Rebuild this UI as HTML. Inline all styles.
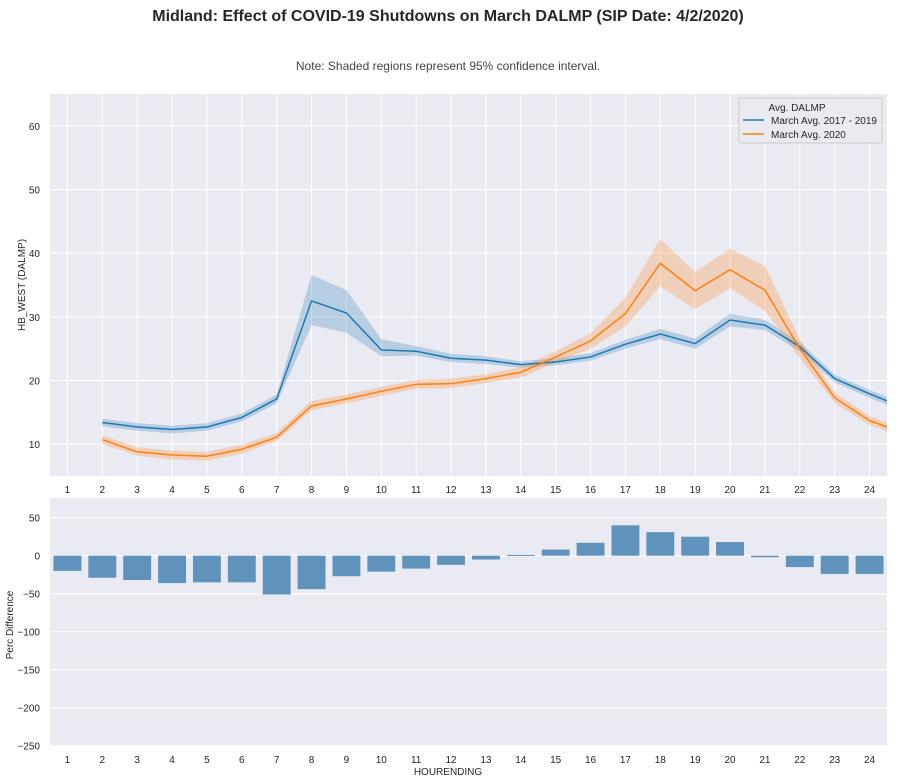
<!DOCTYPE html>
<html><head><meta charset="utf-8"><style>
body{margin:0;background:#fff;width:897px;height:782px;overflow:hidden}
svg{display:block;font-family:"Liberation Sans",sans-serif}
</style></head><body>
<svg id="s" width="897" height="782" xmlns="http://www.w3.org/2000/svg"></svg>
<script>
const s=document.getElementById('s');let h='';
const L=50,R=887,W=R-L;
const X=v=>L+(v-0.5)*W/24;
// top plot
const T0=94,T1=476,Y=v=>T1-(v-5)*(T1-T0)/60;
h+=`<text x="448" y="21" text-anchor="middle" font-size="16" font-weight="bold" fill="#262626">Midland: Effect of COVID-19 Shutdowns on March DALMP (SIP Date: 4/2/2020)</text>`;
h+=`<text x="448" y="70" text-anchor="middle" font-size="12" fill="#444">Note: Shaded regions represent 95% confidence interval.</text>`;
h+=`<rect x="${L}" y="${T0}" width="${W}" height="${T1-T0}" fill="#eaeaf2"/>`;
for(let v=10;v<=60;v+=10){h+=`<line x1="${L}" x2="${R}" y1="${Y(v)}" y2="${Y(v)}" stroke="#fff" stroke-width="1"/><text x="${L-10}" y="${Y(v)+4}" text-anchor="end" font-size="10" fill="#262626">${v}</text>`;}
for(let i=1;i<=24;i++){h+=`<line x1="${X(i)}" x2="${X(i)}" y1="${T0}" y2="${T1}" stroke="#fff"/><text x="${X(i)}" y="${T1+17}" text-anchor="middle" font-size="10" fill="#262626">${i}</text>`;}
h+=`<text transform="translate(25,285) rotate(-90)" text-anchor="middle" font-size="10" fill="#262626">HB_WEST (DALMP)</text>`;
const blue=[13.4,12.7,12.3,12.7,14.2,17.1,32.5,30.6,24.8,24.6,23.5,23.2,22.5,22.9,23.7,25.7,27.3,25.8,29.5,28.7,25.3,20.3,17.9,15.7];
const bl=[12.8,12.1,11.7,12.1,13.6,16.4,28.7,27.5,23.8,23.9,22.9,22.6,22.0,22.4,23.1,25.0,26.5,25.0,28.5,27.9,24.6,19.7,17.3,15.1];
const bh=[14.0,13.3,12.9,13.3,14.8,17.8,36.6,34.2,26.5,25.4,24.2,23.8,23.0,23.5,24.3,26.4,28.1,26.6,30.5,29.5,26.0,20.9,18.5,16.3];
const or=[10.7,8.8,8.3,8.1,9.2,11.1,16.0,17.1,18.3,19.4,19.5,20.3,21.3,23.7,26.2,30.5,38.4,34.1,37.4,34.2,25.0,17.3,13.7,11.7];
const ol=[10.0,8.2,7.6,7.4,8.5,10.5,15.3,16.4,17.6,18.7,18.8,19.6,20.5,22.8,25.0,28.5,34.8,31.2,34.5,31.0,23.5,16.5,13.0,11.0];
const oh=[11.4,9.5,9.0,8.8,9.9,11.8,16.8,17.8,19.0,20.1,20.3,21.0,22.1,24.6,27.4,33.0,42.2,37.0,40.7,38.0,26.5,18.1,14.4,12.4];
function band(lo,hi,c){let p='';lo.forEach((v,i)=>p+=`${X(i+2)},${Y(v)} `);for(let i=hi.length-1;i>=0;i--)p+=`${X(i+2)},${Y(hi[i])} `;return `<polygon points="${p}" fill="${c}" fill-opacity="0.25"/>`;}
function line(a,c){return `<polyline points="${a.map((v,i)=>X(i+2)+','+Y(v)).join(' ')}" fill="none" stroke="${c}" stroke-width="1.5"/>`;}
h+=`<svg x="${L}" y="${T0}" width="${W}" height="${T1-T0}" overflow="hidden"><g transform="translate(${-L},${-T0})">`;
h+=band(bl,bh,'#1f77b4')+band(ol,oh,'#ff7f0e')+line(blue,'#1f77b4')+line(or,'#ff7f0e')+`</g></svg>`;
// legend
h+=`<rect x="739" y="98" width="143" height="45" fill="#eaeaf2" stroke="#ccc" rx="2"/>`;
h+=`<text x="797" y="111" text-anchor="middle" font-size="10" fill="#262626">Avg. DALMP</text>`;
h+=`<line x1="743" x2="764" y1="120" y2="120" stroke="#1f77b4" stroke-width="1.5"/><text x="771" y="124" font-size="10" fill="#262626">March Avg. 2017 - 2019</text>`;
h+=`<line x1="743" x2="764" y1="134" y2="134" stroke="#ff7f0e" stroke-width="1.5"/><text x="771" y="138" font-size="10" fill="#262626">March Avg. 2020</text>`;
// bottom plot
const B0=498,B1=746,YB=v=>555.7-v*38/50;
h+=`<rect x="${L}" y="${B0}" width="${W}" height="${B1-B0}" fill="#eaeaf2"/>`;
for(let v=-250;v<=50;v+=50){h+=`<line x1="${L}" x2="${R}" y1="${YB(v)}" y2="${YB(v)}" stroke="#fff"/><text x="${L-10}" y="${YB(v)+4}" text-anchor="end" font-size="10" fill="#262626">${v<0?'\u2212'+(-v):v}</text>`;}
const d=[-20,-29,-32,-36,-35,-35,-51,-44,-27,-21,-17,-12,-5,1,8,17,40,31,25,18,-2,-15,-24,-24];
d.forEach((v,i)=>{const x=X(i+1)-W/24*0.4,y1=YB(Math.max(v,0)),y2=YB(Math.min(v,0));h+=`<rect x="${x}" y="${y1}" width="${W/24*0.8}" height="${Math.max(y2-y1,1)}" fill="#5f93bb"/>`;
h+=`<text x="${X(i+1)}" y="${B1+17}" text-anchor="middle" font-size="10" fill="#262626">${i+1}</text>`;});
h+=`<text x="448" y="775" text-anchor="middle" font-size="10" fill="#262626">HOURENDING</text>`;
h+=`<text transform="translate(13,625) rotate(-90)" text-anchor="middle" font-size="10" fill="#262626">Perc Difference</text>`;
s.innerHTML=h;
</script>
</body></html>
